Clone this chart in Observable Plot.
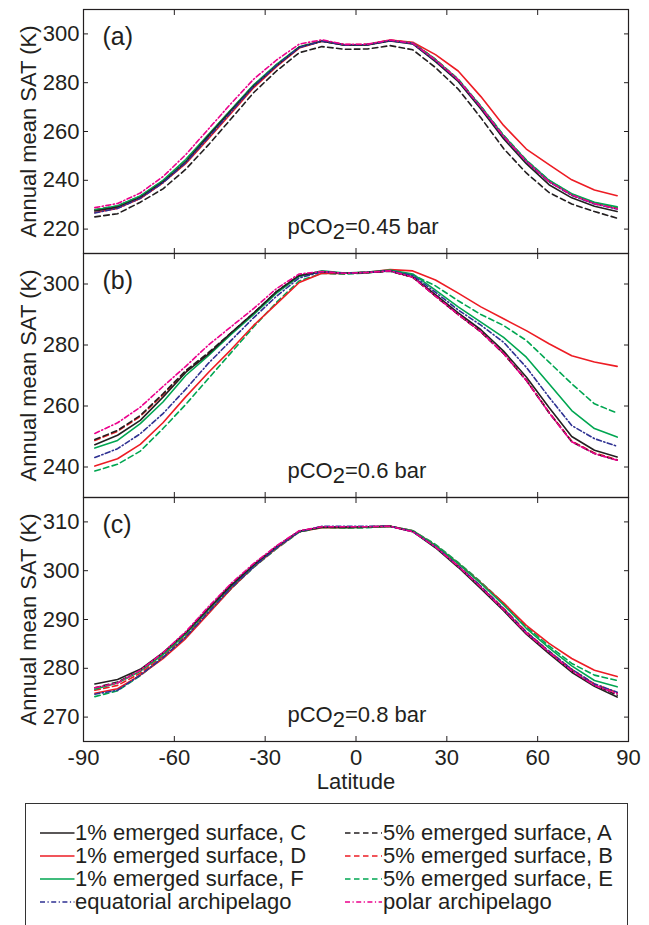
<!DOCTYPE html>
<html>
<head>
<meta charset="utf-8">
<script src="https://cdn.jsdelivr.net/npm/d3@7"></script>
<script src="https://cdn.jsdelivr.net/npm/@observablehq/plot@0.6"></script>
<style>
  body { margin: 0; background: #fff; font-family: "Liberation Sans", Arial, sans-serif; }
  #wrap { position: relative; width: 649px; height: 925px; overflow: hidden; background: #fff; }
  #wrap svg { position: absolute; left: 0; display: block; overflow: visible; }
  #legend { position: absolute; left: 25px; top: 803px; width: 603px; height: 160px;
            border: 1px solid #333; box-sizing: border-box; }
  .item { position: absolute; height: 22px; display: flex; align-items: center;
          font-size: 22px; line-height: 22px; white-space: nowrap; color: #231f20; }
  .item svg { position: static !important; margin-right: 1px; }
</style>
</head>
<body>
<div id="wrap"><div id="legend"></div></div>
<script>
// ---------- data ----------
const lat = [-86.25,-78.75,-71.25,-63.75,-56.25,-48.75,-41.25,-33.75,-26.25,-18.75,-11.25,-3.75,
             3.75,11.25,18.75,26.25,33.75,41.25,48.75,56.25,63.75,71.25,78.75,86.25];
const xTicks = [-90,-60,-30,0,30,60,90];

// panel (a) pCO2 = 0.45 bar
const a_C   = [227.4,229.0,233.0,239.3,247.5,258.2,268.6,278.7,287.0,294.5,297.0,295.4,295.5,297.1,295.9,288.6,280.5,269.2,257.0,246.8,238.2,232.8,229.4,227.2];
const a_D   = [226.8,228.5,232.5,239.0,246.8,257.0,267.5,278.0,286.6,294.2,297.0,295.5,295.6,297.5,296.6,291.5,284.8,274.3,262.5,252.8,246.4,240.2,236.0,233.7];
const a_F   = [227.8,229.6,233.6,240.0,248.5,258.8,269.0,279.2,287.5,294.7,297.1,295.5,295.6,297.3,296.3,289.5,281.3,270.2,258.3,248.2,240.0,234.5,231.0,229.1];
const a_A   = [225.0,226.3,231.0,236.5,244.5,254.5,265.2,276.0,284.8,292.3,294.8,293.7,293.8,295.2,293.5,286.2,277.4,265.6,253.0,243.0,235.0,230.3,227.2,224.5];
const a_B   = [227.8,229.4,233.4,239.8,248.2,258.5,268.8,279.0,287.3,294.6,297.2,295.6,295.7,297.4,296.3,289.5,281.3,270.0,258.0,247.8,239.5,234.0,230.5,228.5];
const a_E   = [228.0,229.5,233.5,239.8,248.2,258.5,268.8,279.0,287.3,294.6,297.2,295.5,295.6,297.3,296.3,289.6,281.5,270.4,258.5,248.3,240.0,234.3,230.8,228.8];
const a_Eq  = [226.6,228.5,232.6,239.0,247.2,257.5,268.0,278.5,287.0,294.4,297.0,295.5,295.6,297.2,296.0,289.0,281.0,269.8,257.8,247.6,239.4,233.8,230.3,228.2];
const a_Pol = [228.8,230.5,234.8,241.5,250.5,261.0,271.5,281.5,289.3,295.8,297.6,295.7,295.8,297.5,296.2,289.3,281.2,270.0,258.0,247.8,239.5,234.0,230.4,228.3];

// panel (b) pCO2 = 0.6 bar
const b_C   = [247.3,250.4,255.3,262.9,271.0,277.0,284.0,290.5,297.5,302.8,304.0,303.5,303.8,304.3,302.3,296.5,290.5,285.0,278.0,269.5,259.5,250.0,245.5,243.3];
const b_D   = [240.3,242.7,247.4,254.5,263.0,271.0,278.5,286.5,293.5,300.5,303.5,303.5,303.8,304.7,304.3,301.3,297.0,292.5,288.6,284.7,280.4,276.5,274.4,273.0];
const b_F   = [246.2,248.7,254.2,261.3,270.0,276.5,283.5,290.0,297.0,302.5,304.3,303.6,303.9,304.6,303.3,298.0,292.5,287.5,282.5,276.0,267.3,258.5,252.6,249.8];
const b_A   = [249.0,252.0,256.9,264.0,271.6,277.5,284.0,290.5,297.5,302.8,304.0,303.5,303.8,304.2,302.2,296.0,290.0,284.3,277.2,268.4,257.8,248.3,244.4,242.2];
const b_B   = [248.7,251.7,256.6,263.7,271.3,277.2,283.8,290.3,297.3,302.6,304.0,303.5,303.8,304.3,302.2,296.0,290.0,284.3,277.2,268.5,258.0,248.5,244.6,242.4];
const b_E   = [238.7,240.9,245.2,252.6,260.5,269.0,277.5,286.0,294.0,301.0,303.5,303.2,303.6,304.4,303.0,299.4,294.5,290.0,286.4,281.5,274.4,267.3,260.7,257.7];
const b_Eq  = [243.1,246.0,250.9,257.5,265.5,274.0,281.5,289.0,296.0,302.0,304.0,303.5,303.8,304.3,302.8,297.3,291.5,286.5,280.9,272.7,262.9,253.6,249.3,246.8];
const b_Pol = [251.0,254.5,259.6,266.4,273.0,280.0,286.0,292.0,298.5,303.3,304.1,303.5,303.8,304.3,302.2,296.0,290.0,284.3,277.2,268.4,257.8,248.3,244.4,242.2];

// panel (c) pCO2 = 0.8 bar
const c_C   = [276.8,277.7,279.8,283.2,287.3,292.2,297.0,301.2,304.9,308.1,308.9,308.9,309.0,309.1,308.0,304.7,300.7,296.3,291.8,287.0,283.0,279.2,276.3,274.1];
const c_D   = [274.9,275.8,278.6,282.0,286.1,291.2,296.3,300.8,304.6,308.0,308.8,308.8,308.9,309.1,308.2,305.2,301.5,297.5,293.4,288.8,285.1,282.0,279.6,278.3];
const c_F   = [275.7,277.0,279.4,282.8,287.0,292.0,296.8,301.0,304.8,308.0,308.9,308.8,308.9,309.1,308.2,305.2,301.5,297.4,293.0,288.2,284.2,280.5,277.5,276.2];
const c_A   = [276.0,277.2,279.5,283.0,287.2,292.3,297.2,301.3,305.0,308.1,309.0,309.0,309.0,309.1,308.1,304.9,300.9,296.6,292.0,287.2,283.2,279.5,276.6,274.5];
const c_B   = [275.5,276.5,279.0,282.5,286.7,291.8,296.8,301.0,304.8,308.0,309.0,308.9,309.0,309.1,308.1,305.0,301.0,296.8,292.3,287.5,283.5,279.8,276.8,275.0];
const c_E   = [274.2,275.4,278.5,282.2,286.3,291.3,296.3,300.7,304.5,307.9,308.9,308.7,308.8,309.1,308.2,305.4,301.7,297.7,293.3,288.5,284.6,281.0,278.6,277.5];
const c_Eq  = [274.7,275.5,278.6,282.2,286.4,291.5,296.5,300.8,304.7,308.0,309.1,309.1,309.1,309.1,308.0,304.9,301.0,296.8,292.2,287.4,283.5,279.8,276.8,275.1];
const c_Pol = [276.0,277.0,279.6,283.2,287.5,292.6,297.4,301.5,305.1,308.2,309.0,309.0,309.0,309.1,308.0,304.9,300.9,296.6,292.0,287.2,283.3,279.5,276.5,274.8];

const seriesKeys   = ["E","B","A","D","F","C","Eq","Pol"];
const seriesNames  = {C:"1% emerged surface, C", D:"1% emerged surface, D", F:"1% emerged surface, F",
                      A:"5% emerged surface, A", B:"5% emerged surface, B", E:"5% emerged surface, E",
                      Eq:"equatorial archipelago", Pol:"polar archipelago"};
const legendOrder  = [["C","A"],["D","B"],["F","E"],["Eq","Pol"]];

// ---------- styles ----------
const BLACK = "#231f20", RED = "#ed1c24", GREEN = "#00a651", BLUE = "#2e3192", MAGENTA = "#ec008c";
const DASH = "5.5,3.5", DASHDOT = "5,2.5,1.2,2.5";
const style = {
  C:{stroke:BLACK}, D:{stroke:RED}, F:{stroke:GREEN},
  A:{stroke:BLACK, dash:DASH}, B:{stroke:RED, dash:DASH}, E:{stroke:GREEN, dash:DASH},
  Eq:{stroke:BLUE, dash:DASHDOT}, Pol:{stroke:MAGENTA, dash:DASHDOT}
};

const panels = [
  {label:"(a)", co2:"0.45", domain:[210,310], ticks:[220,240,260,280,300], top:0,   height:253, mt:9, mb:0,
   data:{C:a_C,D:a_D,F:a_F,A:a_A,B:a_B,E:a_E,Eq:a_Eq,Pol:a_Pol}},
  {label:"(b)", co2:"0.6",  domain:[230,310], ticks:[240,260,280,300],     top:253, height:244, mt:0, mb:0,
   data:{C:b_C,D:b_D,F:b_F,A:b_A,B:b_B,E:b_E,Eq:b_Eq,Pol:b_Pol}},
  {label:"(c)", co2:"0.8",  domain:[265,315], ticks:[270,280,290,300,310], top:497, height:300, mt:0, mb:56,
   data:{C:c_C,D:c_D,F:c_F,A:c_A,B:c_B,E:c_E,Eq:c_Eq,Pol:c_Pol}, bottom:true}
];

const wrap = document.getElementById("wrap");
const FONT = "'Liberation Sans', Arial, sans-serif";

for (const p of panels) {
  const marks = [];
  for (const k of seriesKeys) {
    const rows = lat.map((x, i) => ({x, y: p.data[k][i]}));
    marks.push(Plot.line(rows, {x:"x", y:"y", stroke: style[k].stroke, strokeWidth: 1.6,
      strokeDasharray: style[k].dash, strokeLinejoin: "round"}));
  }
  marks.push(
    Plot.axisY(p.ticks, {anchor:"left", tickSize:-5, tickPadding:9, label:null, fill:BLACK, stroke:BLACK}),
    Plot.axisY(p.ticks, {anchor:"right", tickSize:-5, tickFormat:() => "", label:null, stroke:BLACK}),
    Plot.axisX(xTicks, {anchor:"top", tickSize:-5, tickFormat:() => "", label:null, stroke:BLACK}),
    Plot.axisX(xTicks, {anchor:"bottom", tickSize:-5, tickPadding:13, label:null, stroke:BLACK, fill:BLACK,
      tickFormat: p.bottom ? (d => String(d)) : (() => "")}),
    Plot.frame({stroke:BLACK, strokeWidth:1.2}),
    Plot.text([p.label], {text: d => d, frameAnchor:"top-left", dx:19, dy:27, textAnchor:"start",
      lineAnchor:"middle", fontSize:25, fill:BLACK}),
    Plot.text([`pCO2=${p.co2} bar`], {text: d => d, frameAnchor:"bottom-left", dx:204, dy:-20,
      textAnchor:"start", lineAnchor:"bottom", fontSize:22, fill:BLACK}),
    Plot.text(["Annual mean SAT (K)"], {text: d => d, frameAnchor:"left", dx:-55, rotate:-90,
      textAnchor:"middle", lineAnchor:"middle", fontSize:22, fill:BLACK})
  );
  if (p.bottom) {
    marks.push(Plot.text(["Latitude"], {text: d => d, frameAnchor:"bottom", dy:47, lineAnchor:"bottom",
      fontSize:22, fill:BLACK}));
  }
  const svg = Plot.plot({
    width: 649, height: p.height,
    marginLeft: 83, marginRight: 21, marginTop: p.mt, marginBottom: p.mb,
    x: {domain:[-90,90], axis:null},
    y: {domain:p.domain, axis:null},
    style: {fontFamily: FONT, fontSize: "22px", background: "transparent", overflow: "visible", color: BLACK},
    marks
  });
  svg.style.top = p.top + "px";
  // subscript for CO2
  svg.querySelectorAll("text").forEach(t => {
    const s = t.textContent;
    if (s.startsWith("pCO2=")) {
      const ns = "http://www.w3.org/2000/svg";
      while (t.firstChild) t.removeChild(t.firstChild);
      t.appendChild(document.createTextNode("pCO"));
      const sub = document.createElementNS(ns, "tspan");
      sub.setAttribute("dy", "5"); sub.textContent = "2";
      const rest = document.createElementNS(ns, "tspan");
      rest.setAttribute("dy", "-5"); rest.textContent = s.slice(4);
      t.appendChild(sub); t.appendChild(rest);
    }
  });
  wrap.appendChild(svg);
}

// ---------- legend ----------
const legend = document.getElementById("legend");
const colX = [[13.5, 49], [319, 357]];
const rowY = [29, 52, 75, 98];
legendOrder.forEach((row, r) => {
  row.forEach((k, c) => {
    const item = document.createElement("div");
    item.className = "item";
    item.style.left = colX[c][0] + "px";
    item.style.top = (rowY[r] - 11) + "px";
    const ns = "http://www.w3.org/2000/svg";
    const s = document.createElementNS(ns, "svg");
    s.setAttribute("width", colX[c][1] - colX[c][0] - 1);
    s.setAttribute("height", 10);
    const l = document.createElementNS(ns, "line");
    l.setAttribute("x1", 0); l.setAttribute("x2", colX[c][1] - colX[c][0] - 1);
    l.setAttribute("y1", 5); l.setAttribute("y2", 5);
    l.setAttribute("stroke", style[k].stroke); l.setAttribute("stroke-width", 1.6);
    if (style[k].dash) l.setAttribute("stroke-dasharray", style[k].dash);
    s.appendChild(l);
    const span = document.createElement("span");
    span.textContent = seriesNames[k];
    item.appendChild(s); item.appendChild(span);
    legend.appendChild(item);
  });
});
</script>
</body>
</html>
